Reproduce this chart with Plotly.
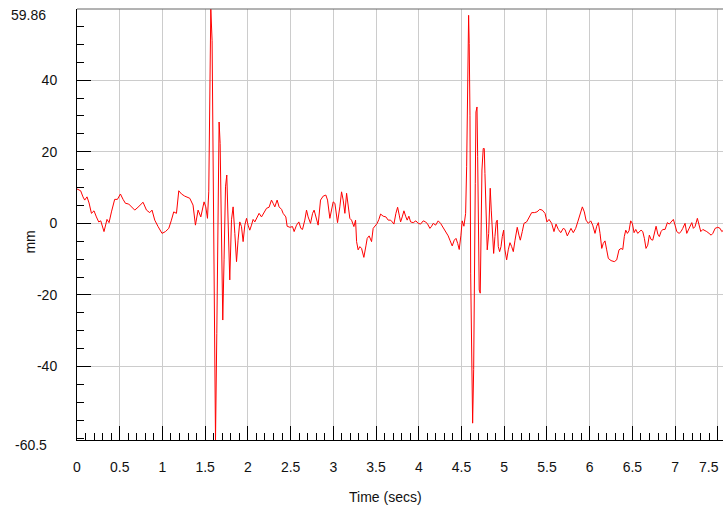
import plotly.graph_objects as go

# Time (secs) and displacement (mm)
t = [0.000, 0.043, 0.070, 0.090, 0.117, 0.141, 0.169, 0.199, 0.227, 0.254, 0.278, 0.316, 0.351, 0.375,
     0.403, 0.441, 0.473, 0.508, 0.539, 0.567, 0.605, 0.637, 0.676, 0.714, 0.773, 0.813, 0.851, 0.878,
     0.910, 0.949, 0.995, 1.035, 1.074, 1.105, 1.132, 1.164, 1.191, 1.223, 1.261, 1.320, 1.358, 1.386,
     1.417, 1.449, 1.487, 1.507, 1.527, 1.542, 1.550, 1.566, 1.581, 1.593, 1.604, 1.621, 1.636, 1.651,
     1.663, 1.675, 1.691, 1.706, 1.721, 1.738, 1.753, 1.768, 1.788, 1.808, 1.827, 1.847, 1.867, 1.885,
     1.905, 1.925, 1.944, 1.964, 1.984, 2.002, 2.022, 2.042, 2.061, 2.081, 2.108, 2.131, 2.159, 2.190,
     2.218, 2.248, 2.276, 2.295, 2.315, 2.342, 2.365, 2.394, 2.412, 2.444, 2.459, 2.491, 2.522, 2.541,
     2.569, 2.596, 2.620, 2.639, 2.666, 2.686, 2.705, 2.733, 2.757, 2.775, 2.795, 2.822, 2.850, 2.881,
     2.912, 2.932, 2.959, 2.979, 2.998, 3.018, 3.029, 3.049, 3.076, 3.096, 3.115, 3.135, 3.155, 3.173,
     3.193, 3.213, 3.240, 3.260, 3.272, 3.290, 3.310, 3.330, 3.357, 3.381, 3.396, 3.419, 3.447, 3.466,
     3.486, 3.513, 3.533, 3.553, 3.583, 3.615, 3.642, 3.670, 3.689, 3.709, 3.732, 3.752, 3.771, 3.787,
     3.806, 3.826, 3.846, 3.864, 3.884, 3.904, 3.935, 3.966, 3.993, 4.021, 4.052, 4.080, 4.103, 4.130,
     4.150, 4.169, 4.197, 4.227, 4.255, 4.286, 4.318, 4.344, 4.364, 4.391, 4.415, 4.435, 4.455, 4.473,
     4.493, 4.508, 4.528, 4.548, 4.560, 4.567, 4.575, 4.583, 4.590, 4.599, 4.607, 4.618, 4.630, 4.642,
     4.654, 4.661, 4.669, 4.681, 4.689, 4.700, 4.707, 4.719, 4.727, 4.739, 4.754, 4.766, 4.774, 4.786,
     4.801, 4.818, 4.825, 4.836, 4.848, 4.860, 4.876, 4.891, 4.906, 4.918, 4.930, 4.946, 4.962, 4.977,
     4.993, 5.008, 5.028, 5.047, 5.067, 5.087, 5.106, 5.126, 5.152, 5.172, 5.188, 5.211, 5.231, 5.262,
     5.289, 5.321, 5.352, 5.383, 5.415, 5.445, 5.477, 5.500, 5.524, 5.555, 5.582, 5.606, 5.633, 5.661,
     5.691, 5.711, 5.738, 5.761, 5.781, 5.808, 5.836, 5.860, 5.887, 5.914, 5.937, 5.957, 5.984, 6.012,
     6.035, 6.062, 6.082, 6.101, 6.121, 6.141, 6.159, 6.179, 6.199, 6.218, 6.250, 6.288, 6.316, 6.343,
     6.367, 6.387, 6.405, 6.422, 6.441, 6.460, 6.480, 6.499, 6.519, 6.539, 6.562, 6.581, 6.601, 6.621,
     6.640, 6.659, 6.679, 6.698, 6.718, 6.738, 6.757, 6.777, 6.797, 6.815, 6.835, 6.855, 6.882, 6.909,
     6.932, 6.952, 6.979, 6.999, 7.019, 7.046, 7.069, 7.089, 7.116, 7.136, 7.155, 7.175, 7.195, 7.213,
     7.233, 7.260, 7.280, 7.300, 7.324, 7.342, 7.370, 7.397, 7.421, 7.441, 7.468, 7.499, 7.526, 7.546,
     7.561]

mm = [9.6, 9.1, 7.4, 6.5, 7.4, 5.7, 2.8, 3.5, 1.8, 0.4, 0.7, -2.3, 1.1, 0.2,
      3.2, 6.7, 6.7, 8.2, 6.7, 5.6, 5.4, 4.6, 3.7, 4.5, 5.9, 3.7, 3.0, 3.7,
      0.9, -0.9, -2.8, -2.3, -1.4, 0.9, 3.2, 2.8, 9.1, 8.2, 7.6, 7.0, 5.1, -0.5,
      3.7, 1.8, 6.0, 4.6, 1.4, 8.8, 23.2, 59.86, 51.0, 13.9, -32.5, -60.5, -30.7, 10.2,
      28.3, 22.3, -1.9, -27.0, -10.2, 10.2, 13.5, -2.8, -15.8, 1.0, 4.6, -2.8, -10.7, -4.7,
      0.4, -0.9, -5.1, -0.5, 1.4, -0.5, -1.9, -0.5, 1.1, 0.4, 1.8, 2.8, 1.8, 3.2,
      4.2, 4.5, 6.5, 5.6, 4.6, 6.5, 4.6, 3.9, 2.8, 1.8, -0.8, -1.1, -0.9, -2.3,
      -0.5, 0.4, -1.4, -1.7, 0.9, 3.7, 1.8, 0.0, 2.8, 3.7, 1.8, -0.5, 6.5, 7.6,
      7.9, 6.5, 1.4, 3.7, 6.0, 5.6, 3.2, 0.2, 4.6, 8.8, 6.5, 2.8, 8.4, 4.6,
      1.4, 0.9, -0.9, 0.9, -5.1, -7.4, -6.5, -7.0, -9.5, -6.3, -4.2, -3.5, -5.1, -1.4,
      -0.8, 0.0, 1.1, 2.6, 2.0, 1.8, 0.9, 0.9, 0.4, -0.2, 2.8, 4.5, 2.3, 0.4,
      1.8, 3.5, 2.0, 0.9, 2.0, 0.4, 0.2, 0.7, 0.0, -0.2, 0.7, 0.4, -0.2, -1.4,
      -0.8, 0.0, -0.5, 0.7, 0.0, -1.1, -2.3, -3.5, -4.7, -6.3, -4.7, -4.2, -5.6, -7.3,
      -3.3, 0.7, -0.8, 2.8, 15.8, 32.5, 52.0, 58.1, 50.2, 30.2, -13.9, -42.8, -55.8, -40.9,
      -17.7, 11.2, 31.1, 32.5, 18.6, -4.7, -18.6, -19.5, -2.8, 14.9, 20.9, 20.9, 13.9, 1.8,
      -7.4, -2.8, 6.5, 9.8, 3.7, -3.7, -8.4, -3.7, 0.4, 0.9, -6.5, -7.9, -6.5, -3.7,
      -1.9, -7.4, -10.2, -7.4, -5.4, -6.5, -7.9, -4.7, -1.1, -3.3, -4.7, -2.3, 0.0, 0.4,
      1.8, 3.0, 3.0, 3.2, 3.9, 3.7, 2.8, 0.4, 1.1, 0.0, -2.3, -0.2, -1.7, -2.6,
      -1.4, -1.7, -3.5, -2.3, -1.4, -2.6, -1.4, 0.4, 2.8, 4.6, 3.2, 0.9, 0.0, 0.7,
      -0.5, -2.8, -0.8, 0.2, -2.8, -7.0, -5.6, -4.9, -7.4, -9.8, -10.4, -10.7, -10.2, -7.4,
      -7.0, -7.3, -3.7, -1.9, -2.8, -2.1, 0.7, 0.0, -2.6, -1.7, -2.8, -2.3, -1.9, -2.3,
      -4.2, -7.0, -6.1, -3.3, -4.5, -4.7, -2.3, -0.8, -3.0, -3.7, -2.3, -1.7, -1.7, 0.2,
      -0.2, 0.4, 1.1, -0.5, -2.3, -2.8, -2.3, -1.4, 0.0, -2.8, -1.7, -0.9, 0.2, -1.4,
      -0.9, 1.4, -0.5, -2.3, -1.7, -1.9, -2.3, -2.8, -3.3, -2.8, -1.4, -1.1, -1.4, -2.3,
      -2.0]

x_range = [0, 7.56]
y_min, y_max = -60.5, 59.86
y_tickvals = [-40, -20, 0, 20, 40]
y_ticktext = ["-40", "-20", "0", "20", "40"]
x_tickvals = [0, 0.5, 1, 1.5, 2, 2.5, 3, 3.5, 4, 4.5, 5, 5.5, 6, 6.5, 7, 7.5]
x_ticktext = ["0", "0.5", "1", "1.5", "2", "2.5", "3", "3.5", "4", "4.5", "5", "5.5", "6", "6.5", "7", ""]
x_last_label = "7.5"

FONT = "Liberation Sans, Arial, sans-serif"
TXT = "#111111"

fig = go.Figure()
fig.add_trace(go.Scatter(x=t, y=mm, mode="lines",
                         line=dict(color="#ff0000", width=1), hoverinfo="skip"))

fig.update_layout(
    width=723, height=508,
    margin=dict(l=77, r=0, t=9, b=68),
    paper_bgcolor="white", plot_bgcolor="white",
    showlegend=False,
    font=dict(family=FONT, size=14, color=TXT),
    xaxis=dict(
        range=x_range, tickmode="array", tickvals=x_tickvals, ticktext=x_ticktext,
        ticks="inside", ticklen=14, tickcolor="#000000", tickwidth=1,
        showgrid=True, gridcolor="#cccccc", gridwidth=1,
        showline=True, linecolor="#000000", linewidth=1,
        zeroline=False, ticklabelstandoff=14,
        tickfont=dict(family=FONT, size=14, color=TXT),
        minor=dict(tickmode="linear", tick0=0, dtick=0.1, ticks="inside", ticklen=7,
                   tickcolor="#000000", tickwidth=1, showgrid=False),
    ),
    yaxis=dict(
        range=[y_min, y_max], tickmode="array", tickvals=y_tickvals, ticktext=y_ticktext,
        ticks="inside", ticklen=14, tickcolor="#000000", tickwidth=1,
        showgrid=True, gridcolor="#cccccc", gridwidth=1,
        showline=True, linecolor="#000000", linewidth=1,
        zeroline=False, ticklabelstandoff=16,
        tickfont=dict(family=FONT, size=14, color=TXT),
        minor=dict(tickmode="linear", tick0=0, dtick=5, ticks="inside", ticklen=7,
                   tickcolor="#000000", tickwidth=1, showgrid=False),
    ),
    shapes=[dict(type="line", xref="paper", yref="paper", x0=0, x1=1, y0=1, y1=1,
                 line=dict(color="#666666", width=1))],
    annotations=[
        dict(text=f"{y_max:g}", xref="paper", yref="paper", x=-0.0455, y=0.985,
             xanchor="right", yanchor="middle", showarrow=False,
             font=dict(family=FONT, size=14, color=TXT)),
        dict(text=f"{y_min:g}", xref="paper", yref="paper", x=-0.0435, y=-0.012,
             xanchor="right", yanchor="middle", showarrow=False,
             font=dict(family=FONT, size=14, color=TXT)),
        dict(text=x_last_label, xref="x", yref="paper", x=x_tickvals[-1], y=-0.063,
             xanchor="right", xshift=3, yanchor="middle", showarrow=False,
             font=dict(family=FONT, size=14, color=TXT)),
        dict(text="mm", xref="paper", yref="paper", x=-0.073, y=0.46,
             xanchor="center", yanchor="middle", textangle=-90, showarrow=False,
             font=dict(family=FONT, size=14, color=TXT)),
        dict(text="Time (secs)", xref="paper", yref="paper", x=0.477, y=-0.133,
             xanchor="center", yanchor="middle", showarrow=False,
             font=dict(family=FONT, size=14, color=TXT)),
    ],
)

fig.write_html("out.html")
